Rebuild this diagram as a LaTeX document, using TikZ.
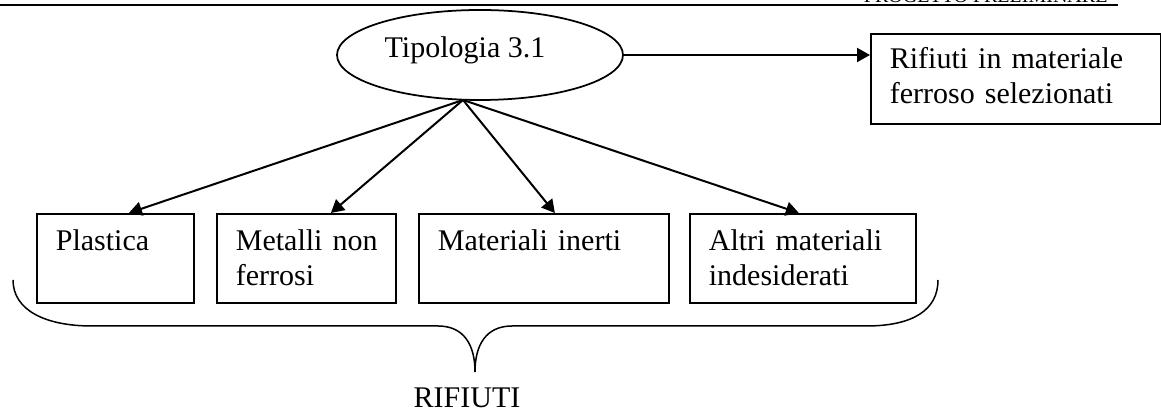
\documentclass[tikz,border=0pt]{standalone}
\usepackage{fontspec}
\setmainfont{Liberation Serif}
\usetikzlibrary{shapes.geometric,arrows.meta}

\begin{document}
\begin{tikzpicture}[x=0.4pt, y=-0.4pt,
  every node/.style={font=\fontsize{12}{14}\selectfont},
  bin/.style={draw, line width=0.7pt, anchor=north west, align=left,
    inner xsep=7.6pt, inner ysep=0pt, text height=14.8pt, text depth=20.8pt},
  feed/.style={-{Triangle[length=5.2pt,width=5.6pt]}, line width=0.8pt}]
% Page frame in px of the scan (1161 x 411), y grows downward
\useasboundingbox (0,0) rectangle (1161,411);
\clip (0,0) rectangle (1161,411);
% Running header, cut off by the top edge
\draw[line width=0.6pt] (0,5) -- (1118,5);
\node[font=\fontsize{8}{9}\selectfont, anchor=base east, inner sep=0pt]
  (header) at (1108,3) {PROGETTO PRELIMINARE};
% Incoming waste type; text sits a bit left of and above the centre
\node[draw, ellipse, line width=0.7pt, minimum width=114.4pt,
  minimum height=36pt, inner sep=0pt, text height=8.5pt, text depth=6.1pt]
  (tip) at (480,55) {Tipologia 3.1\hspace*{12pt}};
\coordinate (fork) at (463,100);
% Selected ferrous fraction on the right
\node[bin, text height=14pt, text depth=22pt, text width=100.8pt]
  (ferroso) at (870,33) {Rifiuti~in~materiale\\ferroso~selezionati};
\draw[feed] (tip.east) -- (tip.east -| ferroso.west);
% Rejected fractions, one box each
\node[bin, text width=47.6pt] (plastica) at (36,213) {Plastica};
\node[bin, text width=56.4pt] (metalli) at (216,213) {Metalli~non\\ferrosi};
\node[bin, text width=84.8pt] (inerti) at (418,213) {Materiali~inerti};
\node[bin, text width=75.2pt] (altri) at (689,213) {Altri~materiali\\indesiderati};
\foreach \b/\dx in {plastica/5.4pt, metalli/9.8pt, inerti/4.4pt, altri/-1.6pt}
  \draw[feed] (fork) -- ([xshift=\dx]\b.north);
% Brace gathering the four boxes
\draw[line width=0.6pt] (13,280) .. controls (13,310) and (45,326) .. (92,326)
  -- (438,326) .. controls (464,326) and (475,345) .. (475,372)
  .. controls (475,345) and (486,326) .. (512,326)
  -- (866,326) .. controls (913,326) and (938,310) .. (938,280);
\node[anchor=base, inner sep=0pt] (rifiuti) at (467,408) {RIFIUTI};
\end{tikzpicture}
\end{document}
